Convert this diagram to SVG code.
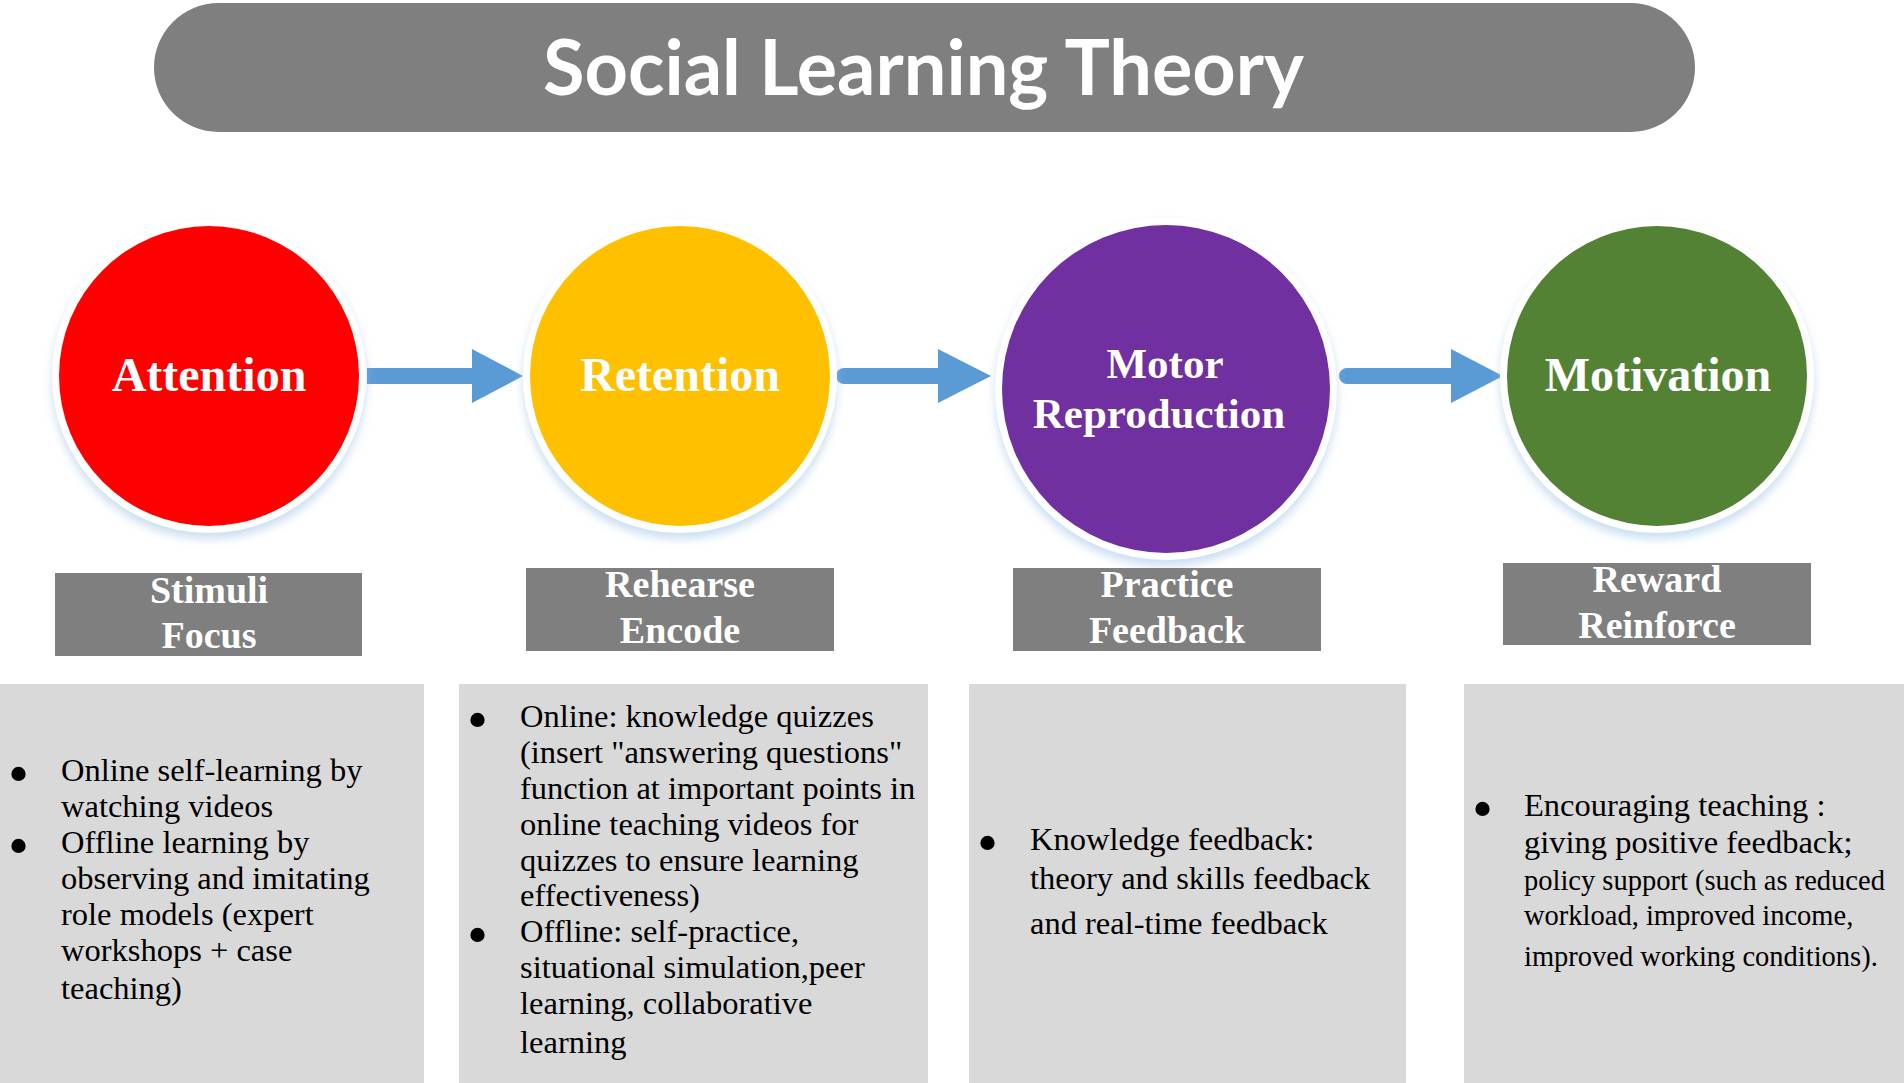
<svg xmlns="http://www.w3.org/2000/svg" width="1904" height="1083" viewBox="0 0 1904 1083">
<style>
.title{font-family:Lato,"Open Sans","Liberation Sans",sans-serif;font-weight:700;font-size:77px;fill:#fff}
.ctext{font-family:"Liberation Serif","Times New Roman",serif;font-weight:700;font-size:48px;fill:#fff;text-anchor:middle}
.ltext{font-family:"Liberation Serif","Times New Roman",serif;font-weight:700;font-size:38px;fill:#fff;text-anchor:middle}
.ptext{font-family:"Liberation Serif","Times New Roman",serif;font-size:32.5px;fill:#000}
.small{font-size:28.5px}
.bul{font-family:"Liberation Serif","Times New Roman",serif;font-size:60px;fill:#000}
.lbox{fill:#7f7f7f}
.panel{fill:#d9d9d9}
.arrow{fill:#5b9bd5}
.ring{fill:#fff;filter:url(#glow)}
</style>
<defs>
<filter id="glow" x="-20%" y="-20%" width="140%" height="150%">
<feDropShadow dx="0" dy="6" stdDeviation="5" flood-color="#9dc3e6" flood-opacity="0.55"/>
</filter>
</defs>
<rect width="1904" height="1083" fill="#fff"/>

<g id="title">
<rect x="154" y="3" width="1541" height="129" rx="64.5" fill="#7f7f7f"/>
<text class="title" x="543" y="95" textLength="761" lengthAdjust="spacingAndGlyphs">Social Learning Theory</text>
</g>

<g id="connectors">
<path class="arrow" d="M367,368 H472 V349 L523,376 L472,403 V384 H367 Z"/>
<path class="arrow" d="M844,368 H938 V349 L991,376 L938,403 V384 H844 A8,8 0 0 1 844,368 Z"/>
<path class="arrow" d="M1347,368 H1451 V349 L1503,376 L1451,403 V384 H1347 A8,8 0 0 1 1347,368 Z"/>
</g>

<g id="node-attention">
<circle class="ring" cx="209" cy="376" r="157"/>
<circle cx="209" cy="376" r="150" fill="#ff0000"/>
<text class="ctext" x="209" y="391">Attention</text>
</g>
<g id="node-retention">
<circle class="ring" cx="680" cy="376" r="157"/>
<circle cx="680" cy="376" r="150" fill="#ffc000"/>
<text class="ctext" x="680" y="391">Retention</text>
</g>
<g id="node-motor">
<circle class="ring" cx="1166" cy="389" r="171"/>
<circle cx="1166" cy="389" r="164" fill="#7030a0"/>
<text class="ctext" x="1165" y="378" style="font-size:43px">Motor</text>
<text class="ctext" x="1159" y="428" style="font-size:43px">Reproduction</text>
</g>
<g id="node-motivation">
<circle class="ring" cx="1657" cy="376" r="157"/>
<circle cx="1657" cy="376" r="150" fill="#548235"/>
<text class="ctext" x="1658" y="391">Motivation</text>
</g>

<g id="label-stimuli">
<rect class="lbox" x="55" y="573" width="307" height="83"/>
<text class="ltext" x="209" y="603">Stimuli</text>
<text class="ltext" x="209" y="648">Focus</text>
</g>
<g id="label-rehearse">
<rect class="lbox" x="526" y="568" width="308" height="83"/>
<text class="ltext" x="680" y="597">Rehearse</text>
<text class="ltext" x="680" y="643">Encode</text>
</g>
<g id="label-practice">
<rect class="lbox" x="1013" y="568" width="308" height="83"/>
<text class="ltext" x="1167" y="597">Practice</text>
<text class="ltext" x="1167" y="643">Feedback</text>
</g>
<g id="label-reward">
<rect class="lbox" x="1503" y="563" width="308" height="82"/>
<text class="ltext" x="1657" y="592">Reward</text>
<text class="ltext" x="1657" y="638">Reinforce</text>
</g>

<g id="panel-attention">
<rect class="panel" x="0" y="684" width="424" height="399"/>
<text class="bul" x="8" y="794">•</text>
<text class="bul" x="8" y="866">•</text>
<text class="ptext" x="61" y="781">Online self-learning by</text>
<text class="ptext" x="61" y="817">watching videos</text>
<text class="ptext" x="61" y="853">Offline learning by</text>
<text class="ptext" x="61" y="889">observing and imitating</text>
<text class="ptext" x="61" y="925">role models (expert</text>
<text class="ptext" x="61" y="961">workshops + case</text>
<text class="ptext" x="61" y="999">teaching)</text>
</g>

<g id="panel-retention">
<rect class="panel" x="459" y="684" width="469" height="399"/>
<text class="bul" x="467" y="740">•</text>
<text class="bul" x="467" y="955">•</text>
<text class="ptext" x="520" y="727">Online: knowledge quizzes</text>
<text class="ptext" x="520" y="763">(insert "answering questions"</text>
<text class="ptext" x="520" y="799">function at important points in</text>
<text class="ptext" x="520" y="835">online teaching videos for</text>
<text class="ptext" x="520" y="871">quizzes to ensure learning</text>
<text class="ptext" x="520" y="906">effectiveness)</text>
<text class="ptext" x="520" y="942">Offline: self-practice,</text>
<text class="ptext" x="520" y="978">situational simulation,peer</text>
<text class="ptext" x="520" y="1014">learning, collaborative</text>
<text class="ptext" x="520" y="1053">learning</text>
</g>

<g id="panel-motor">
<rect class="panel" x="969" y="684" width="437" height="399"/>
<text class="bul" x="977" y="863">•</text>
<text class="ptext" x="1030" y="850">Knowledge feedback:</text>
<text class="ptext" x="1030" y="889">theory and skills feedback</text>
<text class="ptext" x="1030" y="934">and real-time feedback</text>
</g>

<g id="panel-motivation">
<rect class="panel" x="1464" y="684" width="440" height="399"/>
<text class="bul" x="1472" y="829">•</text>
<text class="ptext" x="1524" y="816">Encouraging teaching :</text>
<text class="ptext" x="1524" y="853">giving positive feedback;</text>
<text class="ptext small" x="1524" y="890">policy support (such as reduced</text>
<text class="ptext small" x="1524" y="925">workload, improved income,</text>
<text class="ptext small" x="1524" y="966">improved working conditions).</text>
</g>
</svg>
